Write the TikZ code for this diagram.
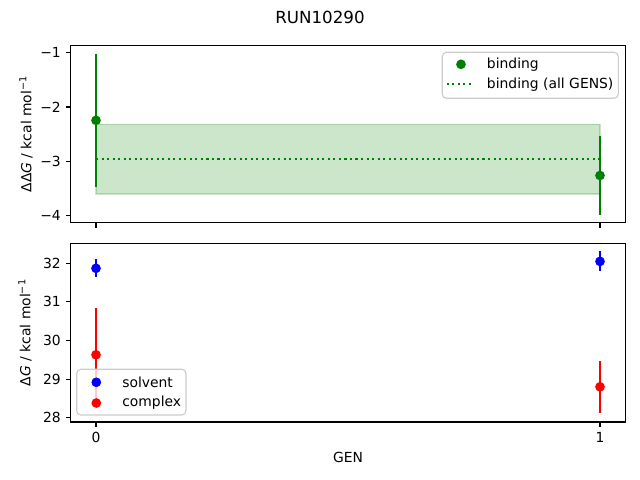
\documentclass[tikz,border=0pt]{standalone}
\usepackage{fontspec}
\setmainfont{DejaVu Sans}
\usetikzlibrary{positioning}
\definecolor{mplgreen}{HTML}{008000}
\definecolor{mplblue}{HTML}{0000FF}
\definecolor{mplred}{HTML}{FF0000}
\definecolor{legendedge}{gray}{0.8}
\newcommand{\axisfont}{\fontsize{10}{12}\selectfont}

\begin{document}
\begin{tikzpicture}[x=0.72pt, y=0.72pt,
  axisframe/.style={draw, line width=0.8pt},
  tickmark/.style={line width=0.8pt},
  ticklabel/.style={font=\axisfont, inner sep=0pt},
  errbar/.style={line width=1.5pt},
  datapoint/.style={circle, fill, inner sep=0pt, minimum size=7pt},
  legendbox/.style={draw=legendedge, fill=white, fill opacity=0.8, rounded corners=3pt, line width=0.8pt},
  legendtext/.style={font=\axisfont, anchor=west, inner sep=0pt}]
\useasboundingbox (0,0) rectangle (640,480);

\node[font=\fontsize{12}{14}\selectfont] (title) at (320,463) {RUN10290};

% upper panel: binding free energy
\begin{scope}[shift={(96,481.63)}, x=362.88pt, y=39.12pt]
\fill[mplgreen, opacity=0.2] (0,-2.32) rectangle (1,-3.60);
\draw[mplgreen, opacity=0.2, line width=1pt] (0,-2.32) rectangle (1,-3.60);
\coordinate (mean_l) at (0,-2.95);
\coordinate (mean_r) at (1,-2.95);
\draw[mplgreen, line width=1.5pt, dash pattern=on 1.5pt off 2.475pt] (mean_l) -- (mean_r);
\coordinate (bind0_hi) at (0,-1.016);
\coordinate (bind0_lo) at (0,-3.472);
\coordinate (bind1_hi) at (1,-2.54);
\coordinate (bind1_lo) at (1,-3.98);
\draw[errbar, mplgreen] (bind0_hi) -- (bind0_lo);
\draw[errbar, mplgreen] (bind1_hi) -- (bind1_lo);
\node[datapoint, mplgreen] (bind0) at (0,-2.244) {};
\node[datapoint, mplgreen] (bind1) at (1,-3.26) {};
\draw[axisframe] (-0.05,-4.129) rectangle (1.05,-0.864);
\foreach \v/\t in {-1/−1, -2/−2, -3/−3, -4/−4} {
  \draw[tickmark] (-0.05,\v) -- ++(-3.5pt,0);
  \node[ticklabel, anchor=east] (ytop\t) at ([xshift=-7pt]-0.05,\v) {\t};
}
\foreach \g in {0,1}
  \draw[tickmark] (\g,-4.129) -- ++(0,-3.5pt);
\end{scope}
\node[font=\axisfont, rotate=90] (ylabel_top) at (26,346) {ΔΔ\textit{G} / kcal mol\textsuperscript{−1}};

% legend of the upper panel
\draw[legendbox] (442.3,381.7) rectangle (618.3,427.7);
\node[datapoint, mplgreen] (leg_bind) at (461,415.7) {};
\node[legendtext] (leg_bind_txt) at (486.7,415.7) {binding};
\coordinate (leg_mean_l) at (446.7,395.7);
\coordinate (leg_mean_r) at (474.3,395.7);
\draw[mplgreen, line width=1.5pt, dash pattern=on 1.5pt off 2.475pt] (leg_mean_l) -- (leg_mean_r);
\node[legendtext] (leg_mean_txt) at (486.7,395.7) {binding (all GENS)};

% lower panel: solvent and complex legs
\begin{scope}[shift={(96,-1018.5)}, x=362.88pt, y=27.792pt]
\coordinate (solv0_hi) at (0,32.10);
\coordinate (solv0_lo) at (0,31.64);
\coordinate (solv1_hi) at (1,32.31);
\coordinate (solv1_lo) at (1,31.79);
\coordinate (cplx0_hi) at (0,30.83);
\coordinate (cplx0_lo) at (0,28.43);
\coordinate (cplx1_hi) at (1,29.47);
\coordinate (cplx1_lo) at (1,28.12);
\draw[errbar, mplblue] (solv0_hi) -- (solv0_lo);
\draw[errbar, mplblue] (solv1_hi) -- (solv1_lo);
\draw[errbar, mplred] (cplx0_hi) -- (cplx0_lo);
\draw[errbar, mplred] (cplx1_hi) -- (cplx1_lo);
\node[datapoint, mplblue] (solv0) at (0,31.87) {};
\node[datapoint, mplblue] (solv1) at (1,32.05) {};
\node[datapoint, mplred] (cplx0) at (0,29.63) {};
\node[datapoint, mplred] (cplx1) at (1,28.80) {};
\draw[axisframe] (-0.05,27.889) rectangle (1.05,32.518);
\foreach \v in {28,...,32} {
  \draw[tickmark] (-0.05,\v) -- ++(-3.5pt,0);
  \node[ticklabel, anchor=east] (ybot\v) at ([xshift=-7pt]-0.05,\v) {\v};
}
\foreach \g in {0,1} {
  \draw[tickmark] (\g,27.889) -- ++(0,-3.5pt);
  \node[ticklabel, anchor=north] (xbot\g) at ([yshift=-7pt]\g,27.889) {\g};
}
\end{scope}
\node[font=\axisfont, rotate=90] (ylabel_bot) at (25,147.4) {Δ\textit{G} / kcal mol\textsuperscript{−1}};
\node[font=\axisfont] (xlabel) at (348,23) {GEN};

% legend of the lower panel
\draw[legendbox] (76.7,65) rectangle (186,110.7);
\node[datapoint, mplblue] (leg_solv) at (96.3,97.7) {};
\node[legendtext] (leg_solv_txt) at (122,97.7) {solvent};
\node[datapoint, mplred] (leg_cplx) at (96.3,77) {};
\node[legendtext] (leg_cplx_txt) at (122,77) {complex};
\end{tikzpicture}
\end{document}
